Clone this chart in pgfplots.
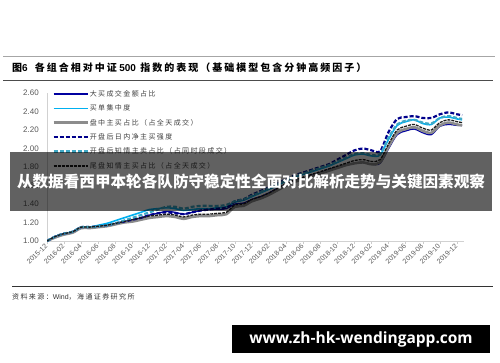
\documentclass[border=0pt]{standalone}
\usepackage{fontspec}
\setmainfont{Liberation Sans}
\newfontfamily\cjk{Noto Sans CJK SC}
\newfontfamily\cjkls{Noto Sans CJK SC}[LetterSpace=20]
\newfontfamily\cjkt{Noto Sans CJK SC}[LetterSpace=20]
\newfontfamily\osans{Open Sans}
\usepackage{pgfplots}
\pgfplotsset{compat=1.18}
\usepackage{pgfplotstable}
\definecolor{cnavy}{HTML}{0000A0}
\definecolor{clblue}{HTML}{00B0F0}
\definecolor{cgray}{HTML}{8C8C8C}
\definecolor{cnavyd}{HTML}{00008B}
\definecolor{cteal}{HTML}{3FA9C6}
\definecolor{cblack}{HTML}{1A1A1A}
\definecolor{ctick}{HTML}{595959}
\pgfplotstableread{
m a b c d e f
0 1.00 1.00 1.00 1.00 1.00 1.00
1 1.05 1.05 1.04 1.05 1.05 1.05
2 1.08 1.08 1.07 1.08 1.08 1.08
3 1.10 1.10 1.09 1.10 1.10 1.10
4 1.15 1.15 1.14 1.15 1.15 1.15
5 1.15 1.15 1.14 1.15 1.15 1.15
6 1.16 1.17 1.15 1.16 1.16 1.16
7 1.17 1.19 1.16 1.17 1.17 1.17
8 1.19 1.22 1.18 1.19 1.19 1.19
9 1.21 1.25 1.20 1.21 1.22 1.21
10 1.23 1.28 1.21 1.23 1.25 1.23
11 1.25 1.31 1.23 1.25 1.28 1.25
12 1.28 1.34 1.25 1.28 1.31 1.27
13 1.30 1.35 1.26 1.30 1.34 1.28
14 1.32 1.36 1.27 1.31 1.37 1.29
15 1.31 1.35 1.26 1.30 1.37 1.28
16 1.29 1.33 1.24 1.29 1.35 1.26
17 1.31 1.34 1.26 1.31 1.37 1.28
18 1.33 1.35 1.27 1.33 1.38 1.29
19 1.34 1.35 1.27 1.34 1.38 1.29
20 1.34 1.36 1.28 1.35 1.38 1.30
21 1.35 1.37 1.29 1.36 1.39 1.31
22 1.40 1.42 1.37 1.43 1.43 1.39
23 1.41 1.44 1.38 1.45 1.45 1.40
24 1.45 1.48 1.43 1.50 1.49 1.45
25 1.48 1.52 1.46 1.54 1.53 1.48
26 1.52 1.56 1.50 1.58 1.57 1.52
27 1.57 1.60 1.55 1.62 1.61 1.57
28 1.61 1.65 1.60 1.67 1.66 1.62
29 1.65 1.69 1.64 1.71 1.70 1.66
30 1.68 1.72 1.67 1.74 1.73 1.69
31 1.71 1.75 1.70 1.77 1.76 1.72
32 1.74 1.78 1.73 1.80 1.79 1.75
33 1.77 1.81 1.76 1.83 1.82 1.78
34 1.80 1.85 1.79 1.88 1.86 1.81
35 1.82 1.89 1.82 1.93 1.90 1.84
36 1.84 1.93 1.84 1.98 1.94 1.87
37 1.85 1.94 1.85 2.00 1.95 1.88
38 1.83 1.92 1.83 1.98 1.93 1.86
39 1.84 1.93 1.85 1.97 1.94 1.88
40 2.00 2.10 2.02 2.18 2.12 2.05
41 2.15 2.25 2.17 2.32 2.26 2.20
42 2.19 2.29 2.21 2.34 2.30 2.24
43 2.21 2.31 2.23 2.35 2.31 2.26
44 2.17 2.27 2.19 2.33 2.28 2.22
45 2.15 2.26 2.17 2.33 2.27 2.20
46 2.24 2.33 2.25 2.37 2.33 2.28
47 2.26 2.34 2.28 2.39 2.35 2.31
48 2.25 2.32 2.26 2.37 2.33 2.29
48.6 2.25 2.31 2.25 2.36 2.32 2.28
}\data
\begin{document}
\begin{tikzpicture}
\path[fill=white] (0pt,0pt) rectangle (500pt,362pt);
\draw[black!35, line width=1pt] (3pt,305pt) -- (495pt,305pt);
\node[anchor=west, inner sep=0pt] at (12pt,294pt) {\fontsize{10}{12}\selectfont\bfseries{\cjkt\bfseries 图}6\hspace{7pt}{\cjkt\bfseries 各组合相对中证}\hspace{2.5pt}500\hspace{4.5pt}{\cjkt\bfseries 指数的表现（基础模型包含分钟高频因子）}};
\draw[black!70, line width=1.2pt] (3pt,281.5pt) -- (493pt,281.5pt);
\draw[black!80, line width=1pt] (12pt,76pt) -- (493pt,76pt);
\node[anchor=west, inner sep=0pt, text=black!80] at (12pt,65pt) {\cjkls\fontsize{7}{8}\selectfont 资料来源：{\rmfamily Wind}，海通证券研究所};
\begin{axis}[
  at={(47pt,121pt)}, anchor=south west,
  scale only axis, width=416.8pt, height=148pt,
  xmin=0, xmax=48.8, ymin=1, ymax=2.6,
  axis x line*=bottom, axis y line*=left,
  axis line style={draw=black!18, line width=0.6pt, -},
  ytick={1,1.2,1.4,1.6,1.8,2,2.2,2.4,2.6},
  /pgf/number format/fixed, /pgf/number format/fixed zerofill, /pgf/number format/precision=2, /pgf/number format/assume math mode=true,
  y tick label style={font=\fontsize{8}{9}\selectfont, text=ctick, inner sep=1pt, xshift=-4pt},
  ytick style={draw=none},
  xtick={0,2,...,48},
  xticklabels={2015-12,2016-02,2016-04,2016-06,2016-08,2016-10,2016-12,2017-02,2017-04,2017-06,2017-08,2017-10,2017-12,2018-02,2018-04,2018-06,2018-08,2018-10,2018-12,2019-02,2019-04,2019-06,2019-08,2019-10,2019-12},
  x tick label style={rotate=45, anchor=east, font=\fontsize{7}{8}\selectfont, text=ctick, inner sep=1pt},
  xtick style={draw=black!20, line width=0.6pt},
  major tick length=3pt, tick align=outside,
  legend cell align=left,
  legend style={draw=none, fill=none, at={(0,1)}, anchor=north west, xshift=5pt, yshift=4pt,
    inner xsep=0pt, inner ysep=0pt, row sep=4.9pt,
    font=\cjkls\fontsize{7}{8}\selectfont, text=black!75,
    nodes={inner sep=1pt, text height=6pt, text depth=1.5pt}},
  legend image code/.code={\draw[#1] (0pt,0pt) -- (34pt,0pt);},
]
\addplot[cnavy, line width=1.3pt, smooth, line join=round] table[x=m,y=a] {\data};
\addlegendentry{大买成交金额占比}
\addplot[clblue, line width=1.6pt, smooth, line join=round] table[x=m,y=b] {\data};
\addlegendentry{买单集中度}
\addplot[cgray, line width=2.6pt, smooth, line join=round] table[x=m,y=c] {\data};
\addlegendentry{盘中主买占比（占全天成交）}
\addplot[cnavyd, line width=2.2pt, dash pattern=on 4pt off 2pt, smooth] table[x=m,y=d] {\data};
\addlegendentry{开盘后日内净主买强度}
\addplot[cteal, line width=2.2pt, dash pattern=on 4pt off 2pt, smooth] table[x=m,y=e] {\data};
\addlegendentry{开盘后知情主卖占比（占同时段成交）}
\addplot[cblack, line width=1.3pt, dash pattern=on 3pt off 1pt, smooth] table[x=m,y=f] {\data};
\addlegendentry{尾盘知情主买占比（占全天成交）}
\end{axis}
\fill[black, opacity=0.62] (10pt,151pt) rectangle (492pt,210pt);
\node[text=white, inner sep=0pt] at (251pt,180.5pt) {\cjk\bfseries\fontsize{15.6}{18}\selectfont 从数据看西甲本轮各队防守稳定性全面对比解析走势与关键因素观察};
\fill[black] (232pt,9pt) rectangle (490pt,37pt);
\node[text=white, inner sep=0pt] at (361pt,23pt) {\osans\bfseries\fontsize{15.5}{18}\selectfont www.zh-hk-wendingapp.com};
\end{tikzpicture}
\end{document}
